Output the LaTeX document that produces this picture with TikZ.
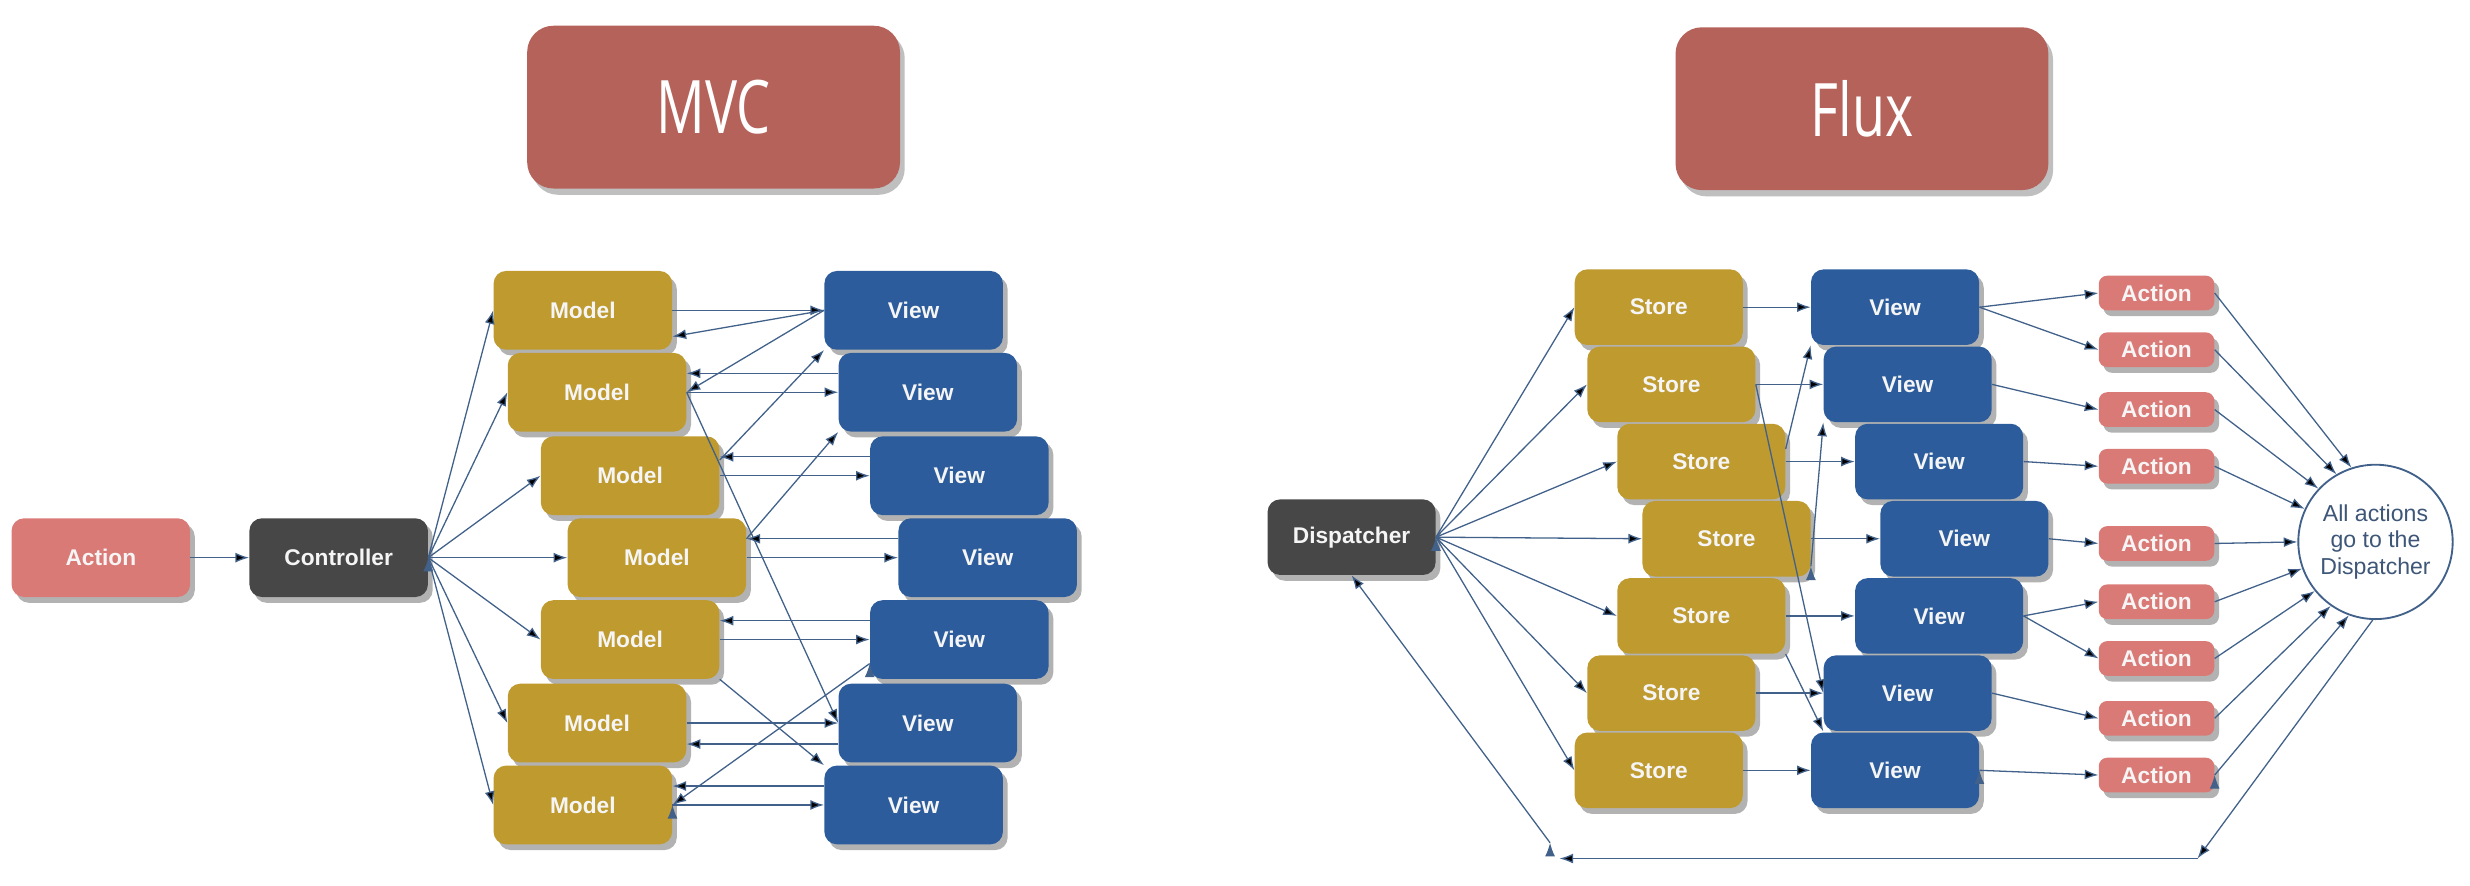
\documentclass[tikz,border=0pt]{standalone}
\usepackage{fontspec}
\setmainfont{Liberation Sans}
\newfontfamily\titlefont{Open Sans}
\usepackage{tikz}
\usetikzlibrary{arrows.meta,shadows}

\definecolor{titlered}{HTML}{B5625A}
\definecolor{actionred}{HTML}{DA7A76}
\definecolor{darkgrey}{HTML}{474747}
\definecolor{gold}{HTML}{BE9A2F}
\definecolor{viewblue}{HTML}{2C5C9B}
\definecolor{linkblue}{HTML}{41618A}
\definecolor{notetext}{HTML}{3E5677}

\tikzset{
  box/.style={rounded corners=2.4mm, inner sep=0pt, text=white!96!black,
    font=\bfseries\fontsize{12.3}{15}\selectfont,
    drop shadow={shadow xshift=0.9mm, shadow yshift=-1.1mm, fill=black, opacity=0.3}},
  mvcbox/.style={box, minimum width=34mm, minimum height=15mm},
  fluxbox/.style={box, minimum width=32mm, minimum height=14.4mm},
  smallaction/.style={box, fill=actionred, rounded corners=1.6mm,
    minimum width=22mm, minimum height=6.6mm},
  heading/.style={rounded corners=5mm, fill=titlered, text=white,
    minimum width=71mm, minimum height=31mm,
    font=\titlefont\fontsize{40}{44}\selectfont,
    drop shadow={shadow xshift=0.9mm, shadow yshift=-1.2mm, fill=black, opacity=0.25}},
  link/.style={-{Latex[length=2.6mm, width=1.9mm]}, draw=linkblue, line width=0.7pt}
}

\begin{document}
\begin{tikzpicture}[x=0.3mm, y=-0.3mm]
  \useasboundingbox (0,0) rectangle (1568,562);

  % titles
  \node[heading] (mvc) at (453,68) {\scalebox{0.73}[1]{MVC}};
  \node[heading] (flux) at (1182,69) {\scalebox{0.73}[1]{Flux}};

  % MVC
  \node[mvcbox, fill=actionred] (act) at (64,354) {Action};
  \node[mvcbox, fill=darkgrey] (ctrl) at (215,354) {Controller};

  \node[mvcbox, fill=gold] (m1) at (370,197) {Model};
  \node[mvcbox, fill=gold] (m2) at (379,249) {Model};
  \node[mvcbox, fill=gold] (m3) at (400,302) {Model};
  \node[mvcbox, fill=gold] (m4) at (417,354) {Model};
  \node[mvcbox, fill=gold] (m5) at (400,406) {Model};
  \node[mvcbox, fill=gold] (m6) at (379,459) {Model};
  \node[mvcbox, fill=gold] (m7) at (370,511) {Model};

  \node[mvcbox, fill=viewblue] (v1) at (580,197) {View};
  \node[mvcbox, fill=viewblue] (v2) at (589,249) {View};
  \node[mvcbox, fill=viewblue] (v3) at (609,302) {View};
  \node[mvcbox, fill=viewblue] (v4) at (627,354) {View};
  \node[mvcbox, fill=viewblue] (v5) at (609,406) {View};
  \node[mvcbox, fill=viewblue] (v6) at (589,459) {View};
  \node[mvcbox, fill=viewblue] (v7) at (580,511) {View};

  \path[link] (act) edge (ctrl);
  \path[link]
  (ctrl.east) edge (m1.west) edge (m2.west) edge (m3.west) edge (m4.west)
  edge (m5.west) edge (m6.west) edge (m7.west);

  \path[link]
  (m1.east) edge (v1.west)
  (v1.west) edge ([yshift=-5mm]m1.east)
  (v1.west) edge (m2.east)
  ([yshift=3mm]m3.east) edge (v1.south west)
  ([yshift=3.6mm]m4.east) edge (v2.south west)
  (m2.east) edge (v6.west)
  (m5.south east) edge (v7.north west)
  ([yshift=3mm]v5.south west) edge (m7.east);

  \path[link]
  ([yshift=3.6mm]v2.west) edge ([yshift=3.6mm]m2.east)
  (m2.east) edge (v2.west)
  ([yshift=3.6mm]v3.west) edge ([yshift=3.6mm]m3.east)
  (m3.east) edge (v3.west)
  ([yshift=3.6mm]v4.west) edge ([yshift=3.6mm]m4.east)
  (m4.east) edge (v4.west)
  ([yshift=3.6mm]v5.west) edge ([yshift=3.6mm]m5.east)
  (m5.east) edge (v5.west)
  (m6.east) edge (v6.west)
  ([yshift=-4mm]v6.west) edge ([yshift=-4mm]m6.east)
  ([yshift=3.6mm]v7.west) edge ([yshift=3.6mm]m7.east)
  (m7.east) edge (v7.west);

  % Flux
  \node[fluxbox, fill=darkgrey] (disp) at (858,341) {Dispatcher};

  \node[fluxbox, fill=gold] (s1) at (1053,195) {Store};
  \node[fluxbox, fill=gold] (s2) at (1061,244) {Store};
  \node[fluxbox, fill=gold] (s3) at (1080,293) {Store};
  \node[fluxbox, fill=gold] (s4) at (1096,342) {Store};
  \node[fluxbox, fill=gold] (s5) at (1080,391) {Store};
  \node[fluxbox, fill=gold] (s6) at (1061,440) {Store};
  \node[fluxbox, fill=gold] (s7) at (1053,489) {Store};

  \node[fluxbox, fill=viewblue] (fv1) at (1203,195) {View};
  \node[fluxbox, fill=viewblue] (fv2) at (1211,244) {View};
  \node[fluxbox, fill=viewblue] (fv3) at (1231,293) {View};
  \node[fluxbox, fill=viewblue] (fv4) at (1247,342) {View};
  \node[fluxbox, fill=viewblue] (fv5) at (1231,391) {View};
  \node[fluxbox, fill=viewblue] (fv6) at (1211,440) {View};
  \node[fluxbox, fill=viewblue] (fv7) at (1203,489) {View};

  \node[smallaction] (fa1) at (1369,186) {Action};
  \node[smallaction] (fa2) at (1369,222) {Action};
  \node[smallaction] (fa3) at (1369,260) {Action};
  \node[smallaction] (fa4) at (1369,296) {Action};
  \node[smallaction] (fa5) at (1369,345) {Action};
  \node[smallaction] (fa6) at (1369,382) {Action};
  \node[smallaction] (fa7) at (1369,418) {Action};
  \node[smallaction] (fa8) at (1369,456) {Action};
  \node[smallaction] (fa9) at (1369,492) {Action};

  \node[circle, draw=linkblue, line width=1pt, fill=white, minimum size=29.4mm,
    inner sep=0pt, align=center, text=notetext,
    font=\fontsize{12.5}{14.5}\selectfont] (circ) at (1508,344)
    {All actions\\go to the\\Dispatcher};

  \path[link]
  (disp.east) edge (s1.west) edge (s2.west) edge (s3.west) edge (s4.west)
  edge (s5.west) edge (s6.west) edge (s7.west);

  \path[link]
  (s1.east) edge (fv1.west)
  (s2.east) edge (fv2.west)
  (s3.east) edge (fv3.west)
  (s4.east) edge (fv4.west)
  (s5.east) edge (fv5.west)
  (s6.east) edge (fv6.west)
  (s7.east) edge (fv7.west)
  (s2.east) edge (fv6.west)
  (s5.south east) edge (fv6.south west)
  ([yshift=2.4mm]s3.east) edge (fv1.south west)
  ([yshift=2mm]s4.south east) edge (fv2.south west);

  \path[link]
  (fv1.east) edge (fa1.west) edge (fa2.west)
  (fv2.east) edge (fa3.west)
  (fv3.east) edge (fa4.west)
  (fv4.east) edge (fa5.west)
  (fv5.east) edge (fa6.west) edge (fa7.west)
  (fv6.east) edge (fa8.west)
  (fv7.east) edge (fa9.west);

  \path[link]
  (fa1.east) edge (circ.108)
  (fa2.east) edge (circ.120)
  (fa3.east) edge (circ.137)
  (fa4.east) edge (circ.155)
  (fa5.east) edge (circ.180)
  (fa6.east) edge (circ.200)
  (fa7.east) edge (circ.219)
  (fa8.east) edge (circ.235)
  (fa9.east) edge (circ.250);

  % back to the dispatcher
  \coordinate (backR) at (1395,545);
  \coordinate (backL) at (990,545);
  \coordinate (backUp) at (984,535);
  \path[link]
  (circ.268) edge (backR)
  (backR) edge (backL)
  (backUp) edge (disp.south);
\end{tikzpicture}
\end{document}
